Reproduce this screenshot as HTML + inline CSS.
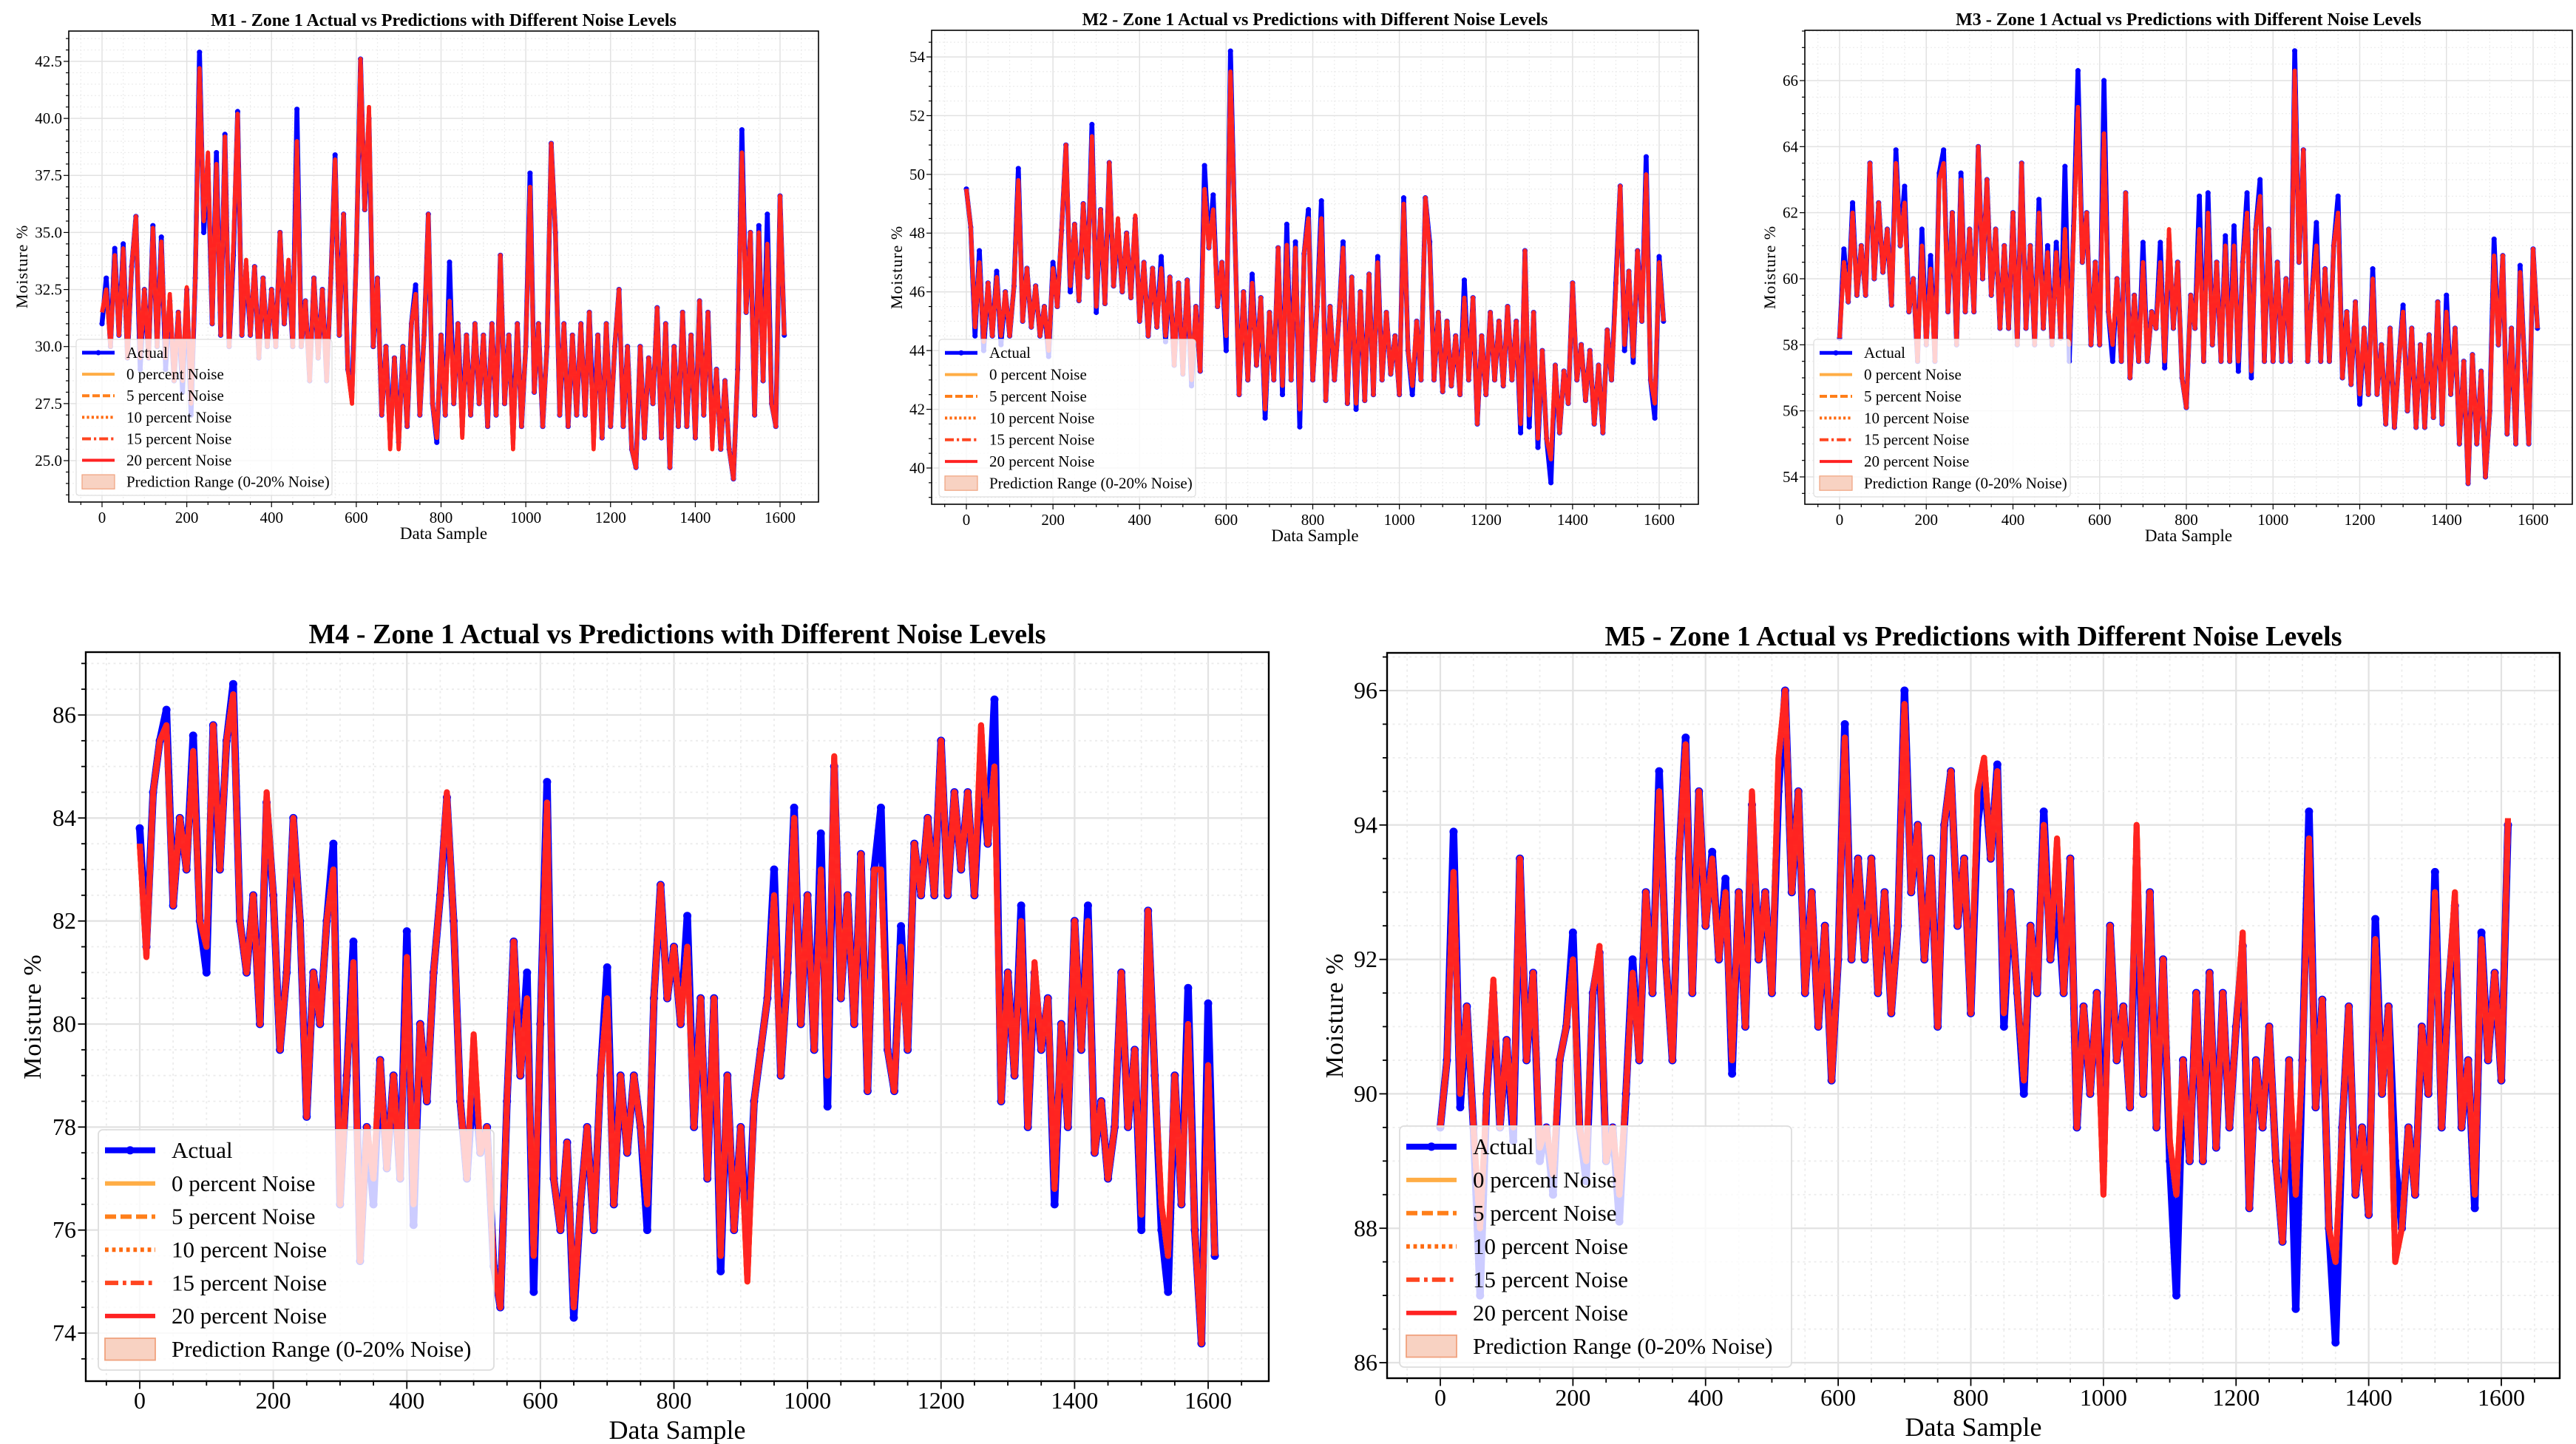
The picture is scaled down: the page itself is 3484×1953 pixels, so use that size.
<!DOCTYPE html>
<html><head><meta charset="utf-8">
<style>
html,body{margin:0;padding:0;background:#fff;}
svg{display:block;}
text{font-family:"Liberation Serif","DejaVu Serif",serif;fill:#000;}
</style></head>
<body>
<svg id="root" width="3484" height="1953" viewBox="0 0 3484 1953" xmlns="http://www.w3.org/2000/svg"></svg>
<script>
// ---- data (sample index step 10, 0..1610) ----
const sampleStep = 10;
const xTickLabels = [0,200,400,600,800,1000,1200,1400,1600];
const legendLabels = ["Actual","0 percent Noise","5 percent Noise","10 percent Noise","15 percent Noise","20 percent Noise","Prediction Range (0-20% Noise)"];

const m1Actual = [31,33,30,34.3,30.5,34.5,29.5,33.5,35.7,29,32.5,29.5,35.3,30,34.8,29,32,28.5,31.5,28,32.5,27,33,42.9,35,38,31,38.5,30.5,39.3,30,34,40.3,30.5,33.5,30.5,33.5,29.5,33,30,32.5,30,35,31,33.5,30,40.4,30,32,28.5,33,29.5,32.5,28.5,33,38.4,30.5,35.8,29,28,34,42.6,36,40,30,33,27,30,26,29.5,25.8,30,26.5,31,32.7,27,30.5,35.8,27.5,25.8,30.5,27,33.7,27.5,31,26.5,30.5,27,31,27.5,30.5,26.5,31,27,34,27.5,30.5,26,31,26.5,30,37.6,28,31,26.5,30,38.9,35,27,31,26.5,30.5,27,31,27,31.5,26.5,30.5,26,31,26.5,30,32.5,26.5,30,25.5,24.7,30,26,29.5,27.5,31.7,26,31,24.7,30,26.5,31.5,26.5,30.5,26,32,27,31.5,26,29,25.5,28.5,25.5,24.2,29,39.5,31.5,35,27,35.3,28.5,35.8,27.5,26.5,36.6,30.5];
const m1Pred = [31.5,32.5,30,34,30.5,34.3,29.5,33.5,35.7,29.5,32.5,29.5,35.2,30,34.6,29.5,32.3,28.5,31.5,28.5,32.6,27.5,33,42.2,35.5,38.5,31,38,30.5,39.2,30,34.5,40.2,30.5,33.8,30.5,33.5,29.5,33,30,32.5,30,35,31,33.8,30,39,30,32,28.5,33,29.5,32.5,28.5,33,38.2,30.5,35.8,29,27.5,34,42.6,36,40.5,30,33,27,30,25.5,29.5,25.5,30,26.5,31,32.3,27,30.5,35.8,27.5,26,30.5,27,32,27.5,31,26,30.5,27,31,27.5,30.5,26.5,31,27,34,27.5,30.5,25.5,31,26.5,30,37,28,31,26.5,30,38.9,35,27,31,26.5,30.5,27,31,27,31.5,25.5,30.5,26,31,26.5,30,32.5,26.5,30,25.5,24.7,30,26,29.5,27.5,31.7,26,31,24.7,30,26.5,31.5,26.5,30.5,26,32,27,31.5,25.5,29,25.5,28.5,25.5,24.2,29,38.5,31.5,35,27,35,28.5,34.5,27.5,26.5,36.6,30.5];

const m2Actual = [49.5,48.2,44.5,47.4,44,46.3,44.5,46.7,44.2,46,44.5,46.2,50.2,45,46.8,44.8,46.2,44.5,45.5,43.8,47,45.5,48.1,51,46,48.3,45.7,49,46.5,51.7,45.3,48.8,45.6,50.4,46.2,48.3,46,48,45.8,48.5,45,47,44.5,46.8,44.8,47.2,44.3,46.5,43.5,46.3,43.2,46.4,42.8,45.5,43.3,50.3,47.5,49.3,45.5,47,44,54.2,48,42.5,46,43,46.6,43.5,45.8,41.7,45.3,43,47.5,42.5,48.3,43,47.7,41.4,47.3,48.8,43,45.5,49.1,42.3,45.5,43,45,47.7,42.2,46.5,42,46,42.3,46.6,42.5,47.2,43,45.3,43.2,44.5,42.5,49.2,44,42.5,45,43,49.2,47.7,43,45.3,42.6,45,42.8,44.5,42.5,46.4,43,45.8,41.5,44.5,42.5,45.3,43,45,42.8,45.5,43,45,41.2,47.4,41.4,45.3,40.7,44,41,39.5,43.5,41.2,43.3,42.2,46.3,43,44.2,42.3,44,41.5,43.5,41.2,44.7,43,46.3,49.6,44,46.7,43.6,47.4,45,50.6,43,41.7,47.2,45];
const m2Pred = [49.5,48.2,44.8,47,44.3,46.3,44.5,46.5,44.5,46,44.5,46.2,49.8,45,46.8,44.8,46.2,44.5,45.5,44,46.8,45.5,48.1,51,46.2,48.3,45.7,49,46.5,51.3,45.5,48.8,45.6,50.4,46.2,48.5,46,48,45.8,48.6,45,47,44.5,46.8,44.8,46.8,44.5,46.5,43.5,46.3,43.2,46.4,43,45.5,43.3,49.5,47.5,48.8,45.5,47,44.5,53.5,48,42.5,46,43,46.3,43.5,45.8,42,45.3,43,47.5,42.8,47.6,43,47.5,42,47.3,48.5,43,45.5,48.5,42.3,45.5,43,45,47.5,42.2,46.5,42.2,46,42.3,46.6,42.5,47,43,45.3,43.2,44.5,42.5,49,44,42.8,45,43,49.2,47.5,43,45.3,42.6,45,42.8,44.5,42.5,45.8,43,45.8,41.5,44.5,42.5,45.3,43,45,42.8,45.5,43,45,41.5,47.4,41.8,45.3,41,44,41,40.3,43.5,41.2,43.3,42.2,46.3,43,44.2,42.3,44,41.5,43.5,41.2,44.7,43,46,49.6,44.2,46.7,43.8,47.4,45,50,43,42.2,47,45];

const m3Actual = [58.2,60.9,59.3,62.3,59.5,61,59.5,63.5,60,62.3,60.2,61.5,59.2,63.9,61,62.8,59,60,57.5,61.5,58,60.7,57.5,63.2,63.9,59,62,58,63.2,59,61.5,59,64,60,63,59.5,61.5,58.5,61,58.5,62,58,63.5,58.5,61,58,62.4,58.5,61,58,61.1,58.2,63.4,57.5,61.6,66.3,60.5,62,58,60.5,58,66,59,57.5,60,57.5,62.6,57,59.5,57.5,61.1,57.5,59,58.5,61.1,57.3,61.2,58.5,60.5,57,56.1,59.5,58.5,62.5,57.5,62.6,58,60.5,57.5,61.3,57.5,61.6,57.2,60.5,62.6,57,61.5,63,57.5,61.5,57.5,60.5,57.5,60,57.5,66.9,60.5,63.9,57.5,59.5,61.7,57.5,60.3,57.5,61,62.5,57,59,56.8,59.3,56.2,58.5,56.5,60.3,56.5,58,55.6,58.5,55.5,57.5,59.2,56,58.5,55.5,58,55.5,58.3,55.8,59.3,55.6,59.5,56.5,58.5,55,57.5,53.8,57.7,55,57.2,54,56,61.2,58,60.7,55.3,58.5,55,60.4,57.5,55,60.9,58.5];
const m3Pred = [58.2,60.5,59.3,62,59.5,61,59.5,63.5,60,62.3,60.2,61.5,59.2,63.5,61,62.3,59,60,57.5,61,58,60.3,57.5,63,63.5,59,62,58,63,59,61.5,59,64,60,63,59.5,61.5,58.5,61,58.5,62,58,63.5,58.5,61,58,62,58.5,60.8,58,60.8,58.2,61.5,58,61.3,65.2,60.5,62,58,60.5,58,64.4,59,58,60,57.5,62.6,57,59.5,57.5,60.5,57.5,59,58.5,60.5,57.5,61.5,58.5,60.5,57,56.1,59.5,58.5,61.5,57.5,62,58,60.5,57.5,61,57.5,61,57.5,60.5,62,57.2,61.5,62.5,57.5,61.5,57.5,60.5,57.5,60,57.5,66.3,60.5,63.9,57.5,59.5,61,57.5,60.3,57.5,61,62,57,59,56.8,59.3,56.5,58.5,56.5,60,56.5,58,55.6,58.5,55.5,57.5,59,56,58.5,55.5,58,55.5,58.3,55.8,59.3,55.6,59,56.5,58.5,55,57.5,53.8,57.7,55,57.2,54,56,60.7,58,60.7,55.3,58.5,55,60.2,57.5,55,60.9,58.5];

const m4Actual = [83.8,81.5,84.5,85.5,86.1,82.3,84,83,85.6,82,81,85.8,83,85.5,86.6,82,81,82.5,80,84.3,82.5,79.5,81,84,82,78.2,81,80,82,83.5,76.5,79,81.6,75.4,78,76.5,79.3,77.2,79,77,81.8,76.1,80,78.5,81,82.5,84.4,82,78.5,77,79,77.5,78,75.3,74.5,78.5,81.6,79,81,74.8,80,84.7,77,76,77.7,74.3,76.5,78,76,79,81.1,76.5,79,77.5,79,78,76,80.5,82.7,80.5,81.5,80,82.1,78,80.5,77,80.5,75.2,79,76,78,75.5,78.5,79.5,80.5,83,79,81,84.2,80,82.5,79.5,83.7,78.4,85,80.5,82.5,80,83.3,78.7,83,84.2,79.5,78.7,81.9,79.5,83.5,82.5,84,82.5,85.5,82.5,84.5,83,84.5,82.5,85,83.5,86.3,78.5,81,79,82.3,78,81,79.5,80.5,76.5,80,78,82,79.5,82.3,77.5,78.5,77,78,81,78,79.5,76,82.2,79,76,74.8,79,76.5,80.7,76,73.8,80.4,75.5];
const m4Pred = [83.5,81.3,84.5,85.5,85.8,82.3,84,83,85.3,82,81.5,85.8,83,85.5,86.4,82,81,82.5,80,84.5,82.5,79.5,81,84,82,78.2,81,80,82,83,76.5,79,81.2,75.4,78,77,79.3,77.2,79,77,81.3,76.5,80,78.5,81,82.5,84.5,82,78.5,77,79.8,77.5,78,75.3,74.5,78.5,81.6,79,80.5,75.5,80,84.3,77,76,77.7,74.5,76.5,78,76,79,80.5,76.5,79,77.5,79,78,76.5,80.5,82.7,80.5,81.5,80,81.5,78,80.5,77,80.5,75.5,79,76,78,75,78.5,79.5,80.5,82.5,79,81,84,80,82.5,79.5,83,79,85.2,80.5,82.5,80,83.3,78.7,83,83,79.5,78.7,81.5,79.5,83.5,82.5,84,82.5,85.5,82.5,84.5,83,84.5,82.5,85.8,83.5,85,78.5,81,79,82,78,81.2,79.5,80.5,76.8,80,78,82,79.5,82,77.5,78.5,77,78,81,78,79.5,76.3,82.2,79,76.5,75.5,79,76.5,80,76,73.8,79.2,75.5];

const m5Actual = [89.5,90.5,93.9,89.8,91.3,89.5,87,90,91.5,89.5,90.8,89.3,93.5,90.5,91.8,89,89.5,88.5,90.5,91,92.4,89.5,88.7,91.5,92.1,89,89.5,88.1,90,92,90.5,93,91.5,94.8,92,90.5,93.5,95.3,91.5,94.5,92.5,93.6,92,93.2,90.3,93,91,94.3,92,93,91.5,94.5,96,93,94.5,91.5,93,91,92.5,90.2,92,95.5,92,93.5,92,93.5,91.5,93,91.2,92.5,96,93,94,92,93.5,91,94,94.8,92.5,93.5,91.2,94,94.8,93.5,94.9,91,93,91.5,90,92.5,91.5,94.2,92,93,91.5,93.5,89.5,91.3,90,91.5,89,92.5,90.5,91.3,89.8,93.5,90,93,89.5,92,89,87,90.5,89,91.5,89,91.8,89.2,91.5,89.5,91,92.2,88.3,90.5,89.5,91,89,87.8,90.5,86.8,90.5,94.2,89.8,91.4,88,86.3,89.5,91.3,88.5,89.5,88.2,92.6,90,91.3,89,88,89.5,88.5,91,90,93.3,89.5,91.5,92.8,89.5,90.5,88.3,92.4,90.5,91.8,90.2,94];
const m5Pred = [89.5,90.5,93.3,90,91.3,89.5,88,90,91.7,89.5,90.8,89.5,93.5,90.5,91.8,89.2,89.5,88.8,90.5,91,92,89.5,89,91.5,92.2,89,89.5,88.5,90,91.8,90.5,93,91.5,94.5,92,90.5,93.5,95.2,91.5,94.5,92.5,93.5,92,93,90.5,93,91,94.5,92,93,91.5,95,96,93,94.5,91.5,93,91,92.5,90.2,92,95.3,92,93.5,92,93.5,91.5,93,91.2,92.5,95.8,93,94,92,93.5,91,94,94.8,92.5,93.5,91.2,94.5,95,93.5,94.8,91.2,93,91.5,90.2,92.5,91.5,94,92,93.8,91.5,93.5,89.5,91.3,90,91.5,88.5,92.5,90.5,91.3,89.8,94,90,93,89.5,92,89.3,88.5,90.5,89,91.5,89,91.8,89.2,91.5,89.5,91,92.4,88.3,90.5,89.5,91,89,87.8,90.5,88.5,90.5,93.8,89.8,91.4,88,87.5,89.5,91.3,88.5,89.5,88.2,92.3,90,91.3,87.5,88,89.5,88.5,91,90,93,89.5,91.5,93,89.5,90.5,88.5,92.3,90.5,91.8,90.2,94.1];

const m1YTicks = [25,27.5,30,32.5,35,37.5,40,42.5];
const m2YTicks = [40,42,44,46,48,50,52,54];
const m3YTicks = [54,56,58,60,62,64,66];
const m4YTicks = [74,76,78,80,82,84,86];
const m5YTicks = [86,88,90,92,94,96];

// ---- layout (pixel geometry) ----
const panels = [
 {id:"m1",title:"M1 - Zone 1 Actual vs Predictions with Different Noise Levels",actual:m1Actual,pred:m1Pred,yt:m1YTicks,dec:1,
  box:[93,42,1107,679],xa:[138,1055],ya:[42.5,83,25,623],big:false,ylx:29,titleY:35,leg:[103,459,449,670]},
 {id:"m2",title:"M2 - Zone 1 Actual vs Predictions with Different Noise Levels",actual:m2Actual,pred:m2Pred,yt:m2YTicks,dec:0,
  box:[1260,41,2297,682],xa:[1307,2244],ya:[54,77,40,633],big:false,ylx:1212,titleY:34,leg:[1270,459,1617,672]},
 {id:"m3",title:"M3 - Zone 1 Actual vs Predictions with Different Noise Levels",actual:m3Actual,pred:m3Pred,yt:m3YTicks,dec:0,
  box:[2441,41,3479,682],xa:[2488,3426],ya:[66,109,54,645],big:false,ylx:2393,titleY:34,leg:[2453,459,2800,672]},
 {id:"m4",title:"M4 - Zone 1 Actual vs Predictions with Different Noise Levels",actual:m4Actual,pred:m4Pred,yt:m4YTicks,dec:0,
  box:[116,882,1716,1868],xa:[189,1634],ya:[86,967,74,1803],big:true,ylx:43,titleY:870,leg:[133,1528,668,1853]},
 {id:"m5",title:"M5 - Zone 1 Actual vs Predictions with Different Noise Levels",actual:m5Actual,pred:m5Pred,yt:m5YTicks,dec:0,
  box:[1876,883,3462,1864],xa:[1948,3383],ya:[96,934,86,1843],big:true,ylx:1804,titleY:873,leg:[1893,1523,2423,1849]}
];

const NS="http://www.w3.org/2000/svg";
const root=document.getElementById('root');
function mk(tag,attrs,parent){const e=document.createElementNS(NS,tag);for(const k in attrs)e.setAttribute(k,attrs[k]);(parent||root).appendChild(e);return e;}

const seriesStyles=[
 {c:"#ffad45",dash:null},{c:"#ff7f1a",dash:"d"},{c:"#ff6a10",dash:"o"},{c:"#ff4520",dash:"dd"},{c:"#ff2222",dash:null}
];
function dashFor(st,w){
  if(st.dash==="d")return (w*2.5)+","+(w);
  if(st.dash==="o")return (w*0.8)+","+(w*0.8);
  if(st.dash==="dd")return (w*3)+","+(w)+","+(w*0.8)+","+(w);
  return "none";
}

panels.forEach(p=>{
  const g=mk('g',{});
  
  
  const [L,T,R,B]=p.box;
  const s=p.big?1.5:1;
  const xS=v=>p.xa[0]+(v-0)*(p.xa[1]-p.xa[0])/1600;
  const yS=v=>p.ya[1]+(v-p.ya[0])*(p.ya[3]-p.ya[1])/(p.ya[2]-p.ya[0]);
  const xMin=0-(p.xa[0]-L)*1600/(p.xa[1]-p.xa[0]), xMax=1600+(R-p.xa[1])*1600/(p.xa[1]-p.xa[0]);
  const vTop=p.ya[0]+(T-p.ya[1])*(p.ya[2]-p.ya[0])/(p.ya[3]-p.ya[1]);
  const vBot=p.ya[0]+(B-p.ya[1])*(p.ya[2]-p.ya[0])/(p.ya[3]-p.ya[1]);
  const grid=mk('g',{},g);
  
  
  for(let v=Math.ceil(xMin/50)*50; v<=xMax; v+=50){
    const x=xS(v);
    if(v%200!==0) mk('line',{x1:x,x2:x,y1:T,y2:B,stroke:"#ececec","stroke-width":1.2*s,"stroke-dasharray":(2*s)+","+(3*s)},grid);
    else mk('line',{x1:x,x2:x,y1:T,y2:B,stroke:"#e2e2e2","stroke-width":1.5*s},grid);
  }
  for(let v=Math.ceil(vBot/0.5)*0.5; v<=vTop; v+=0.5){
    const y=yS(v);
    const isMaj=p.yt.some(t=>Math.abs(t-v)<1e-6);
    if(!isMaj) mk('line',{x1:L,x2:R,y1:y,y2:y,stroke:"#ececec","stroke-width":1.2*s,"stroke-dasharray":(2*s)+","+(3*s)},grid);
    else mk('line',{x1:L,x2:R,y1:y,y2:y,stroke:"#e2e2e2","stroke-width":1.5*s},grid);
  }
  const cp=mk('clipPath',{id:'clip-'+p.id},g);
  mk('rect',{x:L,y:T,width:R-L,height:B-T},cp);
  const plot=mk('g',{'clip-path':'url(#clip-'+p.id+')'},g);
  const pts=arr=>arr.map((v,i)=>xS(i*sampleStep).toFixed(1)+','+yS(v).toFixed(1)).join(' ');
  const aw=p.big?10:6.5;
  const al=mk('polyline',{points:pts(p.actual),fill:"none",stroke:"#0000ff","stroke-width":aw,"stroke-linejoin":"round"},plot);
  
  
  p.actual.forEach((v,i)=>{
    mk('circle',{cx:xS(i*sampleStep),cy:yS(v),r:aw*0.55,fill:"#0000ff"},plot);
  });
  const pw=p.big?8:5.5;
  seriesStyles.forEach((st,k)=>{
    const pl=mk('polyline',{points:pts(p.pred),fill:"none",stroke:st.c,"stroke-width":pw,"stroke-dasharray":dashFor(st,pw),"stroke-linejoin":"round",opacity:k===4?0.95:0.9},plot);
    
    
  });
  mk('rect',{x:L,y:T,width:R-L,height:B-T,fill:"none",stroke:"#000","stroke-width":1.6*s},g);
  const fs=p.big?32:21;
  const axX=mk('g',{},g);
  
  
  for(let v=Math.ceil(xMin/50)*50; v<=xMax; v+=50){
    const x=xS(v), maj=v%200===0;
    mk('line',{x1:x,x2:x,y1:B,y2:B+(maj?7:4)*s,stroke:"#000","stroke-width":1.2*s},axX);
  }
  xTickLabels.forEach(v=>{
    const t=mk('text',{x:xS(v),y:B+(p.big?37:28),"text-anchor":"middle","font-size":fs},axX);
    t.textContent=v;
  });
  const axY=mk('g',{},g);
  
  
  for(let v=Math.ceil(vBot/0.5)*0.5; v<=vTop; v+=0.5){
    const y=yS(v), maj=p.yt.some(t=>Math.abs(t-v)<1e-6);
    mk('line',{x1:L,x2:L-(maj?7:4)*s,y1:y,y2:y,stroke:"#000","stroke-width":1.2*s},axY);
  }
  p.yt.forEach(v=>{
    const t=mk('text',{x:L-(p.big?13:9),y:yS(v)+fs*0.33,"text-anchor":"end","font-size":fs},axY);
    t.textContent=v.toFixed(p.dec);
  });
  const xl=mk('text',{x:(L+R)/2,y:B+(p.big?78:50),"text-anchor":"middle","font-size":p.big?36:23},g);
  xl.textContent="Data Sample";
  
  
  const yl=mk('text',{x:p.ylx,y:(T+B)/2,"text-anchor":"middle","font-size":p.big?34:22,transform:`rotate(-90 ${p.ylx} ${(T+B)/2})`,dy:p.big?12:8,"letter-spacing":"1"},g);
  yl.textContent="Moisture %";
  
  
  const tt=mk('text',{x:(L+R)/2,y:p.titleY,"text-anchor":"middle","font-size":p.big?38:24,"font-weight":"bold"},g);
  tt.textContent=p.title;
  
  
  const [lx0,ly0,lx1,ly1]=p.leg;
  const lg=mk('g',{},g);
  
  
  mk('rect',{x:lx0,y:ly0,width:lx1-lx0,height:ly1-ly0,rx:4*s,fill:"rgba(255,255,255,0.8)",stroke:"#dddddd","stroke-width":1.2*s},lg);
  const rowH=(ly1-ly0)/7.25;
  const sx0=lx0+(p.big?9:8), sx1=sx0+(p.big?68:44), tx=sx1+(p.big?22:16);
  const lfs=p.big?31:21;
  const law=p.big?8:5, lpw=p.big?6:4;
  legendLabels.forEach((lab,i)=>{
    const cy=ly0+rowH*(i+0.62);
    const e=mk('g',{},lg);
    
    
    if(i===0){
      mk('line',{x1:sx0,x2:sx1,y1:cy,y2:cy,stroke:"#0000ff","stroke-width":law},e);
      mk('circle',{cx:(sx0+sx1)/2,cy:cy,r:law*0.7,fill:"#0000ff"},e);
    }else if(i<6){
      const st=seriesStyles[i-1];
      mk('line',{x1:sx0,x2:sx1,y1:cy,y2:cy,stroke:st.c,"stroke-width":lpw,"stroke-dasharray":dashFor(st,lpw)},e);
    }else{
      mk('rect',{x:sx0,y:cy-rowH*0.33,width:sx1-sx0,height:rowH*0.66,fill:"#f8d2c2",stroke:"#f0a27e","stroke-width":1.2*s},e);
    }
    const t=mk('text',{x:tx,y:cy+lfs*0.33,"font-size":lfs},e);
    t.textContent=lab;
  });
});
</script>
</body></html>
